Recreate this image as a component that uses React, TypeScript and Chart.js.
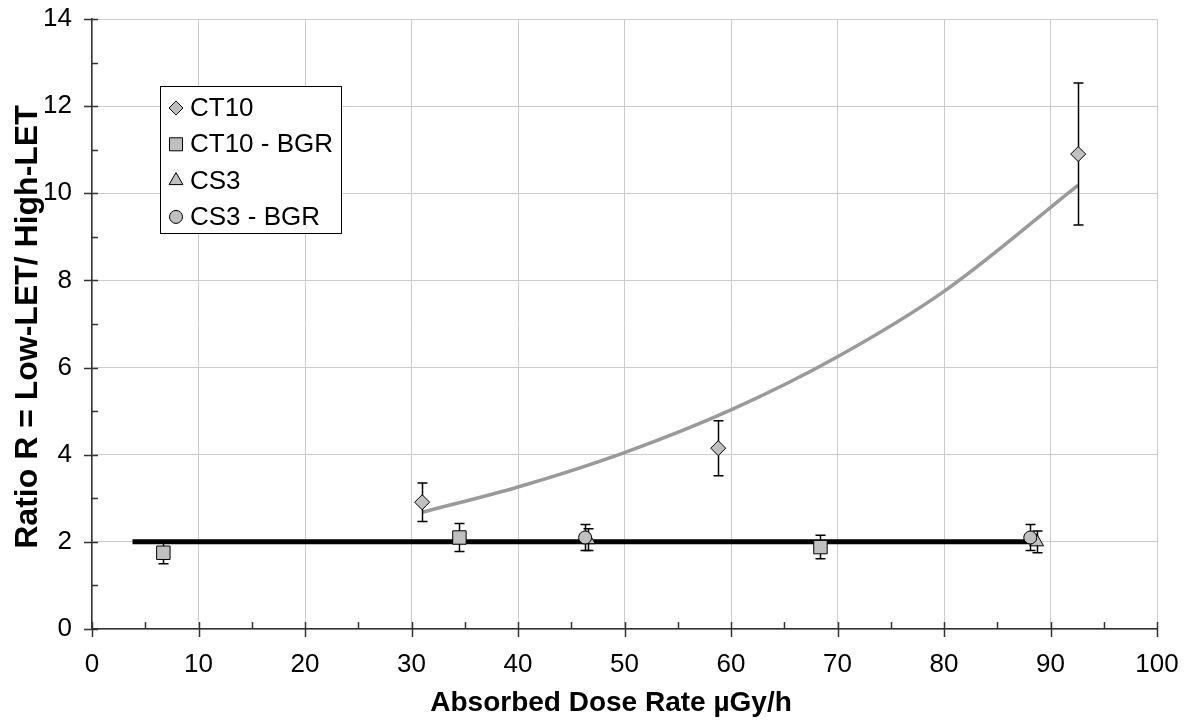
import React, { useEffect, useRef } from 'react';
import { Chart, registerables } from 'chart.js';

Chart.register(...registerables);

// ---- data ----
const ct10X = [31.0, 58.8, 92.6];
const ct10Y = [2.91, 4.15, 10.9];
const ct10Err = [0.44, 0.63, 1.63];

const ct10BgrX = [6.7, 34.5, 68.4];
const ct10BgrY = [1.75, 2.1, 1.88];
const ct10BgrErr = [0.25, 0.32, 0.27];

const cs3X = [46.6, 88.7];
const cs3Y = [2.05, 2.0];
const cs3Err = [0.25, 0.25];

const cs3BgrX = [46.3, 88.1];
const cs3BgrY = [2.1, 2.1];
const cs3BgrErr = [0.3, 0.3];

// fitted curve
const fitX = [31, 40, 50, 60, 70, 80, 92.6];
const fitY = [2.68, 3.26, 4.05, 5.03, 6.25, 7.75, 10.19];

// horizontal mean line
const meanX = [3.8, 88.7];
const meanY = [2.0, 2.0];

const xMajor = [0, 10, 20, 30, 40, 50, 60, 70, 80, 90, 100];
const xMinor = [5, 15, 25, 35, 45, 55, 65, 75, 85, 95];
const yMajor = [0, 2, 4, 6, 8, 10, 12, 14];
const yMinor = [1, 3, 5, 7, 9, 11, 13];

const legendLabels = ['CT10', 'CT10 - BGR', 'CS3', 'CS3 - BGR'];
const legendShapes = ['diamond', 'square', 'triangle', 'circle'];

const xTitle = 'Absorbed Dose Rate µGy/h';
const yTitle = 'Ratio R = Low-LET/ High-LET';

const FONT = "'Liberation Sans', Arial, sans-serif";
const MARK_FILL = '#c0c0c0';

const zip = (xs: number[], ys: number[]) => xs.map((x, i) => ({ x, y: ys[i] }));

function drawShape(ctx: CanvasRenderingContext2D, shape: string, x: number, y: number) {
  ctx.save();
  ctx.fillStyle = MARK_FILL;
  ctx.strokeStyle = '#000';
  ctx.lineWidth = 1;
  ctx.beginPath();
  if (shape === 'diamond') {
    const r = 7;
    ctx.moveTo(x - r, y);
    ctx.lineTo(x, y - r);
    ctx.lineTo(x + r, y);
    ctx.lineTo(x, y + r);
    ctx.closePath();
  } else if (shape === 'square') {
    const h = 6.5;
    ctx.rect(x - h, y - h, 2 * h, 2 * h);
  } else if (shape === 'triangle') {
    const r = 8;
    ctx.moveTo(x, y - r);
    ctx.lineTo(x + 0.866 * r, y + r / 2);
    ctx.lineTo(x - 0.866 * r, y + r / 2);
    ctx.closePath();
  } else {
    ctx.arc(x, y, 6.5, 0, Math.PI * 2);
  }
  ctx.fill();
  ctx.stroke();
  ctx.restore();
}

const errorBarPlugin = {
  id: 'errorBars',
  beforeDatasetDraw(chart: any, args: any) {
    const ds = chart.data.datasets[args.index];
    if (!ds.errors) return;
    const { ctx, scales } = chart;
    const xs = scales.x;
    const ys = scales.y;
    ctx.save();
    ctx.strokeStyle = '#000';
    ctx.lineWidth = 1.5;
    ds.data.forEach((p: any, i: number) => {
      const e = ds.errors[i];
      const px = Math.round(xs.getPixelForValue(p.x)) + 0.5;
      const top = ys.getPixelForValue(p.y + e);
      const bot = ys.getPixelForValue(p.y - e);
      ctx.beginPath();
      ctx.moveTo(px, top);
      ctx.lineTo(px, bot);
      ctx.moveTo(px - 5, top);
      ctx.lineTo(px + 5, top);
      ctx.moveTo(px - 5, bot);
      ctx.lineTo(px + 5, bot);
      ctx.stroke();
    });
    ctx.restore();
  },
};

const ticksAndLegendPlugin = {
  id: 'ticksLegend',
  afterDraw(chart: any) {
    const { ctx, scales, chartArea } = chart;
    const xs = scales.x;
    const ys = scales.y;
    const axisY = chartArea.bottom;
    const axisX = chartArea.left;
    ctx.save();
    ctx.strokeStyle = '#333';
    ctx.lineWidth = 1.5;
    ctx.beginPath();
    xMajor.forEach((v) => {
      const px = Math.round(xs.getPixelForValue(v)) + 0.5;
      ctx.moveTo(px, axisY - 7);
      ctx.lineTo(px, axisY + 8);
    });
    xMinor.forEach((v) => {
      const px = Math.round(xs.getPixelForValue(v)) + 0.5;
      ctx.moveTo(px, axisY - 7);
      ctx.lineTo(px, axisY);
    });
    yMajor.forEach((v) => {
      const py = Math.round(ys.getPixelForValue(v)) + 0.5;
      ctx.moveTo(axisX - 8, py);
      ctx.lineTo(axisX + 6, py);
    });
    yMinor.forEach((v) => {
      const py = Math.round(ys.getPixelForValue(v)) + 0.5;
      ctx.moveTo(axisX, py);
      ctx.lineTo(axisX + 6, py);
    });
    ctx.stroke();

    // axis titles
    ctx.fillStyle = '#000';
    ctx.textAlign = 'center';
    ctx.textBaseline = 'middle';
    ctx.font = `bold 28px ${FONT}`;
    ctx.fillText(xTitle, 611, 703);
    ctx.save();
    ctx.translate(28, 327);
    ctx.rotate(-Math.PI / 2);
    ctx.font = `bold 32px ${FONT}`;
    ctx.fillText(yTitle, 0, 0);
    ctx.restore();

    // legend box
    const lx = 160.5, ly = 86.5, lw = 181, lh = 147;
    ctx.fillStyle = '#fff';
    ctx.fillRect(lx, ly, lw, lh);
    ctx.strokeStyle = '#000';
    ctx.lineWidth = 1;
    ctx.strokeRect(lx, ly, lw, lh);
    ctx.font = `26px ${FONT}`;
    ctx.textBaseline = 'middle';
    ctx.textAlign = 'left';
    legendLabels.forEach((label, i) => {
      const cy = 108 + i * 36.3;
      drawShape(ctx, legendShapes[i], 176, cy);
      ctx.fillStyle = '#000';
      ctx.fillText(label, 190, cy + 1);
    });
    ctx.restore();
  },
};

const zeroPad = (s: any) => {
  s.paddingTop = 0;
  s.paddingBottom = 0;
  s.paddingLeft = 0;
  s.paddingRight = 0;
};

export default function App() {
  const ref = useRef<HTMLCanvasElement>(null);
  useEffect(() => {
    if (!ref.current) return;
    const markerBase = {
      type: 'scatter' as const,
      backgroundColor: MARK_FILL,
      borderColor: '#000',
      borderWidth: 1,
      showLine: false,
    };
    const chart = new Chart(ref.current, {
      type: 'scatter',
      data: {
        datasets: [
          {
            label: 'fit',
            type: 'line',
            data: zip(fitX, fitY),
            borderColor: '#9a9a9a',
            borderWidth: 3.5,
            pointRadius: 0,
            cubicInterpolationMode: 'monotone',
            fill: false,
            order: 11,
          } as any,
          {
            label: 'mean',
            type: 'line',
            data: zip(meanX, meanY),
            borderColor: '#000',
            borderWidth: 5,
            pointRadius: 0,
            fill: false,
            order: 10,
          } as any,
          {
            ...markerBase,
            label: 'CT10',
            data: zip(ct10X, ct10Y),
            errors: ct10Err,
            pointStyle: 'rectRot',
            pointRadius: 7.5,
            order: 4,
          } as any,
          {
            ...markerBase,
            label: 'CT10 - BGR',
            data: zip(ct10BgrX, ct10BgrY),
            errors: ct10BgrErr,
            pointStyle: 'rect',
            pointRadius: 9.5,
            order: 3,
          } as any,
          {
            ...markerBase,
            label: 'CS3',
            data: zip(cs3X, cs3Y),
            errors: cs3Err,
            pointStyle: 'triangle',
            pointRadius: 8,
            order: 2,
          } as any,
          {
            ...markerBase,
            label: 'CS3 - BGR',
            data: zip(cs3BgrX, cs3BgrY),
            errors: cs3BgrErr,
            pointStyle: 'circle',
            pointRadius: 6.5,
            order: 1,
          } as any,
        ],
      },
      options: {
        responsive: false,
        animation: false,
        events: [],
        layout: { padding: { top: 19, right: 31, bottom: 0, left: 0 } },
        plugins: {
          legend: { display: false },
          tooltip: { enabled: false },
        },
        scales: {
          x: {
            type: 'linear',
            min: 0,
            max: 100,
            afterBuildTicks: (s: any) => {
              s.ticks = xMajor.map((v) => ({ value: v }));
            },
            afterFit: (s: any) => {
              s.height = 97;
              zeroPad(s);
            },
            grid: { color: '#cccccc', lineWidth: 1, drawTicks: false },
            border: { color: '#333', width: 1.5 },
            ticks: {
              font: { family: FONT, size: 26 },
              color: '#000',
              padding: 20,
              maxRotation: 0,
            },
          },
          y: {
            type: 'linear',
            min: 0,
            max: 14,
            afterBuildTicks: (s: any) => {
              s.ticks = yMajor.map((v) => ({ value: v }));
            },
            afterFit: (s: any) => {
              s.width = 92;
              zeroPad(s);
            },
            grid: { color: '#cccccc', lineWidth: 1, drawTicks: false },
            border: { color: '#333', width: 1.5 },
            ticks: {
              font: { family: FONT, size: 26 },
              color: '#000',
              padding: 20,
            },
          },
        },
      },
      plugins: [errorBarPlugin, ticksAndLegendPlugin],
    } as any);
    return () => chart.destroy();
  }, []);

  return (
    <div style={{ position: 'absolute', left: 0, top: 0, width: 1188, height: 726, background: '#fff' }}>
      <canvas ref={ref} width={1188} height={726} style={{ width: 1188, height: 726 }} />
    </div>
  );
}
